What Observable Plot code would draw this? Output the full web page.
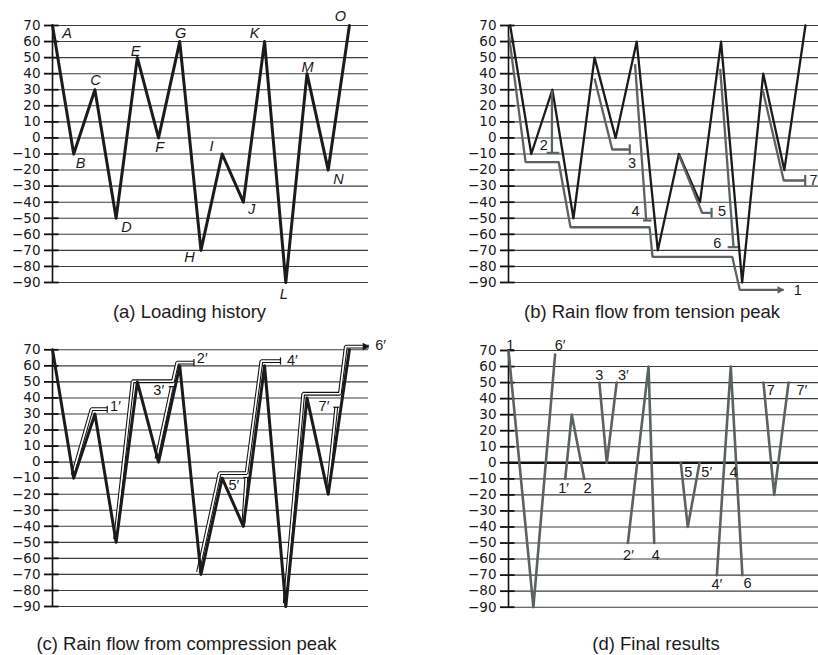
<!DOCTYPE html>
<html><head><meta charset="utf-8">
<script src="https://cdn.jsdelivr.net/npm/d3@7"></script>
<script src="https://cdn.jsdelivr.net/npm/@observablehq/plot@0.6"></script>
<style>
body{margin:0;background:#fff;}
#wrap{position:relative;width:818px;height:655px;overflow:hidden;background:#fff;font-family:"Liberation Sans",Arial,sans-serif;}
.panel{position:absolute;}
.title{position:absolute;font-size:18.5px;color:#1c1c1c;white-space:nowrap;transform:translateX(-50%);line-height:1;}
</style></head><body><div id="wrap"></div>
<script>
// ---------- data ----------
const points  = ["A","B","C","D","E","F","G","H","I","J","K","L","M","N","O"];
const loading = [70,-10,30,-50,50,0,60,-70,-10,-40,60,-90,40,-20,70];
const yTicks  = [70,60,50,40,30,20,10,0,-10,-20,-30,-40,-50,-60,-70,-80,-90];
// letter label anchors (x index, value)
const letterX = [0.69,1.32,2.03,3.49,3.92,5.05,6.04,6.46,7.5,9.39,9.53,10.9,12.03,13.49,13.58];
const letterY = [65,-16,35.8,-55.8,53.8,-5.9,65,-74.5,-5.3,-44.6,65,-97.5,43.9,-25.9,75.6];

// (b) rain flow from tension peaks
const tensionPaths = [
  {id:"1", pts:[[-0.05,63],[0.73,-15],[2.30,-15],[2.86,-55.6],[6.61,-55.6],[6.75,-74],[10.53,-74],[10.89,-94.6],[12.97,-94.6]]},
  {id:"2", pts:[[1.98,29.5],[1.98,-9.3]]},
  {id:"3", pts:[[4.0,37],[4.84,-7.2],[5.67,-7.2]]},
  {id:"4", pts:[[5.92,46],[6.45,-51.4]]},
  {id:"5", pts:[[8.01,-10.9],[9.10,-46.6],[9.55,-46.6]]},
  {id:"6", pts:[[9.96,43],[10.59,-68]]},
  {id:"7", pts:[[11.98,29.5],[12.97,-26.5],[13.99,-26.5]]}
];
const tensionStops = [
  {x1:1.73,x2:2.33,y1:-9.3,y2:-9.3},
  {x1:5.67,x2:5.67,y1:-4.0,y2:-10.4},
  {x1:6.30,x2:6.70,y1:-51.4,y2:-51.4},
  {x1:9.55,x2:9.55,y1:-43.5,y2:-49.7},
  {x1:10.31,x2:10.80,y1:-68,y2:-68},
  {x1:13.99,x2:13.99,y1:-23,y2:-30}
];
const tensionLabels = [
  {t:"1",x:13.64,y:-95},{t:"2",x:1.59,y:-4.7},{t:"3",x:5.78,y:-16.1},{t:"4",x:5.94,y:-45.6},
  {t:"5",x:10.05,y:-45.6},{t:"6",x:9.82,y:-65.9},{t:"7",x:14.38,y:-26.5}
];

// (c) rain flow from compression peaks
const compPaths = [
  {id:"1′", pts:[[0.95,-8],[1.84,33],[2.58,33]]},
  {id:"2′", pts:[[2.95,-48],[3.78,50.4],[5.68,50.4],[5.88,62],[6.67,62]]},
  {id:"3′", pts:[[4.9,2],[5.63,47]]},
  {id:"4′", pts:[[6.86,-68.6],[7.88,-6.9],[9.15,-6.9],[9.85,63],[10.75,63]]},
  {id:"5′", pts:[[9.0,-38],[9.14,-9.6]]},
  {id:"6′", pts:[[10.95,-88],[11.82,42.6],[13.55,42.6],[13.83,72],[14.92,72]]},
  {id:"7′", pts:[[12.98,-17],[13.38,34.2]]}
];
const compStops = [
  {x1:2.58,x2:2.58,y1:30.8,y2:35.2},
  {x1:6.67,x2:6.67,y1:59.8,y2:64.2},
  {x1:5.48,x2:5.78,y1:47,y2:47},
  {x1:10.75,x2:10.75,y1:60.8,y2:65.2},
  {x1:9.0,x2:9.28,y1:-9.6,y2:-9.6},
  {x1:13.24,x2:13.52,y1:34.2,y2:34.2}
];
const compLabels = [
  {t:"1′",x:2.97,y:34.7},{t:"2′",x:7.06,y:64.4},{t:"3′",x:5.01,y:44.6},{t:"4′",x:11.31,y:63.3},
  {t:"5′",x:8.55,y:-14.6},{t:"6′",x:15.47,y:72.7},{t:"7′",x:12.8,y:34.7}
];

// (d) final results: extracted cycles
const finalCycles = [
  {id:"c1", pts:[[-0.08,70],[1.10,-90],[2.13,67.5]]},
  {id:"c2", pts:[[2.61,-10],[2.92,30],[3.51,-10]]},
  {id:"c3", pts:[[4.23,50],[4.58,0],[5.05,50]]},
  {id:"c4", pts:[[5.58,-50],[6.56,60],[6.83,-50]]},
  {id:"c5", pts:[[8.09,0],[8.42,-40],[8.98,0]]},
  {id:"c6", pts:[[9.8,-70],[10.46,60],[11.01,-70]]},
  {id:"c7", pts:[[12.01,50],[12.52,-20],[13.2,50]]}
];
const finalLabels = [
  {t:"1",x:0.0,y:73.1},{t:"6′",x:2.37,y:73.4},{t:"1′",x:2.53,y:-16.2},{t:"2",x:3.67,y:-16.2},
  {t:"3",x:4.22,y:54.4},{t:"3′",x:5.37,y:54.4},{t:"2′",x:5.61,y:-57.4},{t:"4",x:6.9,y:-57.4},
  {t:"5",x:8.45,y:-5.9},{t:"5′",x:9.32,y:-5.9},{t:"4′",x:9.8,y:-76},{t:"4",x:10.59,y:-5.9},
  {t:"6",x:11.26,y:-75},{t:"7",x:12.36,y:45},{t:"7′",x:13.83,y:45}
];

const titles = [
  {t:"(a) Loading history", cx:189.5, top:302.5},
  {t:"(b) Rain flow from tension peak", cx:652, top:302.5},
  {t:"(c) Rain flow from compression peak", cx:186.5, top:634.5},
  {t:"(d) Final results", cx:656, top:634.5}
];

// ---------- helpers ----------
const BLACK = "#1b1b1b", GRAY = "#5a6360", GRID = "#3d3d3d";
const flat = paths => paths.flatMap(p => p.pts.map(([x,y]) => ({id:p.id, x, y})));
const lastPts = paths => paths.map(p => ({id:p.id, x:p.pts[p.pts.length-1][0], y:p.pts[p.pts.length-1][1]}));
const history = loading.map((v,i) => ({i, v, name: points[i]}));

function frame(xd, k, zeroBold) {
  const m = [
    Plot.ruleY(yTicks, {x1: xd[0], x2: xd[1], stroke: GRID, strokeWidth: 1.1}),
    Plot.ruleY(yTicks, {x1: xd[0] - 8/k, x2: xd[0] + 6.5/k, stroke: "#111", strokeWidth: 1.8}),
    Plot.ruleX([xd[0]], {y1: -90, y2: 70, stroke: "#111", strokeWidth: 1.6}),
    Plot.axisY({ticks: yTicks, tickSize: 0, tickPadding: 12, label: null, fontSize: 13.5,
      fontFamily: "DejaVu Sans", color: "#1a1a1a"})
  ];
  if (zeroBold) m.push(Plot.ruleY([0], {x1: xd[0], x2: xd[1], stroke: "#111", strokeWidth: 2.6}));
  return m;
}

function makePanel({left, top, width, height, mL, mR, mT, mB, xd, marks}) {
  const svg = Plot.plot({
    width, height, marginLeft: mL, marginRight: mR, marginTop: mT, marginBottom: mB,
    x: {domain: xd, axis: null},
    y: {domain: [-90, 70]},
    style: {overflow: "visible", background: "transparent", fontFamily: "Liberation Sans, Arial, sans-serif"},
    marks
  });
  const d = document.createElement("div");
  d.className = "panel";
  d.style.left = left + "px"; d.style.top = top + "px"; d.style.width = width + "px";
  d.appendChild(svg);
  document.getElementById("wrap").appendChild(d);
}

const xdL = [0, 14.9], kL = 21.2;
const xdR = [-0.08, 14.62], kR = 21.09;
const numFont = {fontSize: 14.5, fontFamily: "Liberation Sans, Arial, sans-serif", fill: "#1a1a1a"};

// (a)
makePanel({left:0, top:0, width:409, height:300, mL:52, mR:41, mT:25, mB:18, xd:xdL, marks:[
  ...frame(xdL, kL, false),
  Plot.line(history, {x:"i", y:"v", stroke: BLACK, strokeWidth: 3, strokeLinejoin: "round"}),
  Plot.text(history, {x: (d,i) => letterX[i], y: (d,i) => letterY[i], text: "name",
    fontStyle: "italic", fontSize: 14.5, fontFamily: "Liberation Sans, Arial, sans-serif", fill: "#1a1a1a"})
]});

// (b)
makePanel({left:408, top:0, width:410, height:300, mL:100, mR:0, mT:25, mB:18, xd:xdR, marks:[
  ...frame(xdR, kR, false),
  Plot.line(history, {x:"i", y:"v", stroke: BLACK, strokeWidth: 2.3, strokeLinejoin: "round"}),
  Plot.line(flat(tensionPaths), {x:"x", y:"y", z:"id", stroke: GRAY, strokeWidth: 2.3,
    strokeLinejoin: "miter", strokeLinecap: "butt"}),
  Plot.link(tensionStops, {x1:"x1", x2:"x2", y1:"y1", y2:"y2", stroke: GRAY, strokeWidth: 2.2, strokeLinecap: "butt"}),
  Plot.dot(lastPts(tensionPaths.slice(0,1)), {x:"x", y:"y", symbol:"triangle2", r:3.6, rotate:90, dx:-4, fill: GRAY, stroke: "none"}),
  Plot.text(tensionLabels, {x:"x", y:"y", text:"t", ...numFont})
]});

// (c)
makePanel({left:0, top:325, width:409, height:300, mL:52, mR:41, mT:24.3, mB:19, xd:xdL, marks:[
  ...frame(xdL, kL, false),
  Plot.line(flat(compPaths), {x:"x", y:"y", z:"id", stroke: "#111", strokeWidth: 3.8,
    strokeLinejoin: "miter", strokeLinecap: "butt"}),
  Plot.line(flat(compPaths), {x:"x", y:"y", z:"id", stroke: "#fff", strokeWidth: 1.7,
    strokeLinejoin: "miter", strokeLinecap: "butt"}),
  Plot.line(history, {x:"i", y:"v", stroke: BLACK, strokeWidth: 3, strokeLinejoin: "round"}),
  Plot.link(compStops, {x1:"x1", x2:"x2", y1:"y1", y2:"y2", stroke: "#111", strokeWidth: 1.2, strokeLinecap: "butt"}),
  Plot.dot(lastPts(compPaths.slice(5,6)), {x:"x", y:"y", symbol:"triangle2", r:3.6, rotate:90, dx:-4, fill: "#111", stroke: "none"}),
  Plot.text(compLabels, {x:"x", y:"y", text:"t", ...numFont})
]});

// (d)
makePanel({left:408, top:325, width:410, height:300, mL:100, mR:0, mT:25, mB:18.3, xd:xdR, marks:[
  ...frame(xdR, kR, true),
  Plot.line(flat(finalCycles), {x:"x", y:"y", z:"id", stroke: GRAY, strokeWidth: 2.6, strokeLinejoin: "round"}),
  Plot.text(finalLabels, {x:"x", y:"y", text:"t", ...numFont})
]});

for (const t of titles) {
  const d = document.createElement("div");
  d.className = "title"; d.textContent = t.t;
  d.style.left = t.cx + "px"; d.style.top = t.top + "px";
  document.getElementById("wrap").appendChild(d);
}
</script>
</body></html>
